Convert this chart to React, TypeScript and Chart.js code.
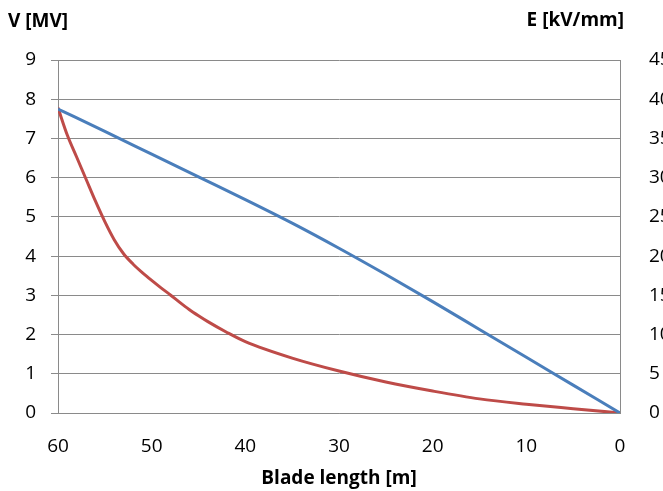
import React, { useEffect, useRef } from "react";
import { Chart, registerables } from "chart.js";

Chart.register(...registerables);

const voltageLength = [60, 55, 50, 45, 40, 35, 30, 25, 20, 15, 10, 5, 0];
const voltage = [7.75, 7.18, 6.6, 6.02, 5.44, 4.84, 4.2, 3.53, 2.84, 2.13, 1.42, 0.71, 0];

const efieldLength = [60, 59, 58, 57, 56, 55, 54, 53, 52, 51, 50, 49, 48, 47, 46, 45, 44, 42, 40, 35, 30, 25, 20, 15, 10, 5, 0];
const efield = [38.9, 35.4, 32.6, 29.8, 27.0, 24.4, 22.1, 20.3, 19.0, 17.9, 16.9, 15.95, 15.05, 14.1, 13.2, 12.4, 11.65, 10.3, 9.1, 7.0, 5.35, 3.95, 2.8, 1.8, 1.12, 0.55, 0];

const xTitle = "Blade length [m]";
const leftTitle = "V [MV]";
const rightTitle = "E [kV/mm]";

const FONT = "'Open Sans', sans-serif";
const GRID = "#8a8a8a";

const titlePlugin = {
  id: "titles",
  afterDraw(chart: any) {
    const { ctx, chartArea } = chart;
    ctx.save();
    ctx.fillStyle = "#000";
    ctx.font = `bold 19px ${FONT}`;
    ctx.textBaseline = "middle";
    ctx.textAlign = "left";
    ctx.fillText(leftTitle, chartArea.left - 50, chartArea.top - 38);
    ctx.textAlign = "right";
    ctx.fillText(rightTitle, chartArea.right + 4, chartArea.top - 39);
    ctx.textAlign = "center";
    ctx.fillText(xTitle, (chartArea.left + chartArea.right) / 2, chartArea.bottom + 66);
    ctx.restore();
  },
};

export default function App() {
  const ref = useRef<HTMLCanvasElement | null>(null);
  useEffect(() => {
    if (!ref.current) return;
    const chart = new Chart(ref.current, {
      type: "line",
      data: {
        datasets: [
          {
            label: "V",
            data: voltageLength.map((x, i) => ({ x, y: voltage[i] })),
            borderColor: "#4a7ebb",
            borderWidth: 3,
            pointRadius: 0,
            tension: 0.3,
            cubicInterpolationMode: "monotone",
            yAxisID: "y",
          },
          {
            label: "E",
            data: efieldLength.map((x, i) => ({ x, y: efield[i] })),
            borderColor: "#be4b48",
            borderWidth: 3,
            pointRadius: 0,
            tension: 0.3,
            cubicInterpolationMode: "monotone",
            yAxisID: "y2",
          },
        ],
      },
      options: {
        animation: false,
        responsive: false,
        layout: { padding: { top: 60, left: 0, right: 0, bottom: 0 } },
        plugins: { legend: { display: false }, tooltip: { enabled: false } },
        scales: {
          x: {
            type: "linear",
            reverse: true,
            min: 0,
            max: 60,
            ticks: { stepSize: 10, color: "#000", font: { family: FONT, size: 19 }, padding: 14, maxRotation: 0 },
            grid: { display: false },
            border: { display: true, color: GRID, width: 1 },
            afterFit: (s: any) => { s.height = 78; },
          },
          y: {
            position: "left",
            min: 0,
            max: 9,
            ticks: { stepSize: 1, color: "#000", font: { family: FONT, size: 19 }, padding: 15 },
            grid: { color: GRID, tickLength: 7, lineWidth: 1 },
            border: { display: true, color: GRID, width: 1 },
            afterFit: (s: any) => { s.width = 58; },
          },
          y2: {
            position: "right",
            min: 0,
            max: 45,
            ticks: { stepSize: 5, color: "#000", font: { family: FONT, size: 19 }, padding: 21 },
            grid: { display: false },
            border: { display: true, color: GRID, width: 1 },
            afterFit: (s: any) => { s.width = 43; },
          },
        },
      },
      plugins: [titlePlugin],
    });
    return () => chart.destroy();
  }, []);
  return (
    <div style={{ position: "absolute", left: 0, top: 0, width: 663, height: 491, background: "#fff" }}>
      <canvas ref={ref} width={663} height={491} />
    </div>
  );
}
